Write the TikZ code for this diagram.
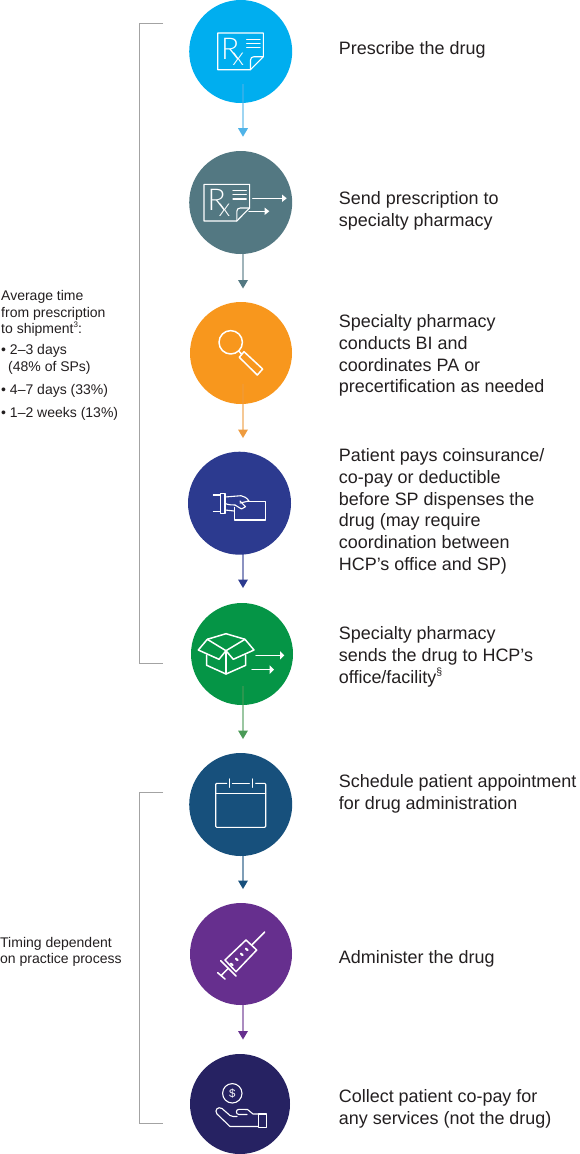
\documentclass[tikz,border=0pt]{standalone}
\usepackage{fontspec}
\setmainfont{Liberation Sans}
\newfontfamily\thinfont{Lato Light}
\definecolor{cA}{HTML}{00AEEF}
\definecolor{cAh}{HTML}{4FB3E8}
\definecolor{cB}{HTML}{537882}
\definecolor{cC}{HTML}{F8971D}
\definecolor{cCh}{HTML}{EE9B3F}
\definecolor{cD}{HTML}{2C3A8F}
\definecolor{cE}{HTML}{059546}
\definecolor{cEh}{HTML}{4A9A57}
\definecolor{cF}{HTML}{17507C}
\definecolor{cG}{HTML}{662F8E}
\definecolor{cH}{HTML}{262262}
\definecolor{brk}{HTML}{A3A3A3}
\definecolor{ink}{HTML}{231F20}
\tikzset{
  x=1pt,y=-1pt,
  stepcircle/.style={circle,minimum size=#1,inner sep=0pt,outer sep=0pt},
  label/.style={anchor=north west,inner sep=0pt,align=left,font=\fontsize{17.95}{21.65}\selectfont,text=ink},
  side/.style={anchor=north west,inner sep=0pt,align=left,font=\fontsize{14}{16.5}\selectfont,text=ink},
  bracket/.style={draw=brk,line width=1pt},
  ic/.style={draw=white,line width=1.1pt,line join=round,line cap=round},
  icb/.style={draw=white,line width=1.5pt,line join=round,line cap=round},
  rx/.style={text=white,inner sep=0pt,anchor=base west},
}
\newcommand{\flowarrow}[4]{% start, tip, name, colour
  \coordinate (#3s) at (243,#1);
  \coordinate (#3t) at (243,#2);
  \coordinate (#3m) at (243,#2-8.5);
  \draw[#4,line width=1.7pt,opacity=.55] (#3s) -- (#3m);
  \fill[#4] (#3m) ++(-5,0) -- ++(10,0) -- (#3t) -- cycle;
}
\newcommand{\rxdoc}{%
  \draw[ic] (263.3,56.7) -- (263.3,33) -- (217.7,33) -- (217.7,69.7) -- (250.5,69.7) -- cycle;
  \draw[ic] (250.5,69.7) -- (250.5,60) .. controls (250.5,58) and (252,56.7) .. (254,56.7) -- (263.3,56.7);
  \draw[ic] (246.7,39.3) -- (260,39.3) (246.7,43.3) -- (260,43.3) (246.7,47.7) -- (260,47.7);
}
\newcommand{\rxtext}{\thinfont\fontsize{30}{30}\selectfont R\kern-7pt\raisebox{-6pt}{\fontsize{25}{25}\selectfont x}}
\newcommand{\supsm}[2]{\raisebox{.75\dimexpr#1\relax}{\fontsize{#1}{#1}\selectfont #2}}
\begin{document}
\begin{tikzpicture}
\useasboundingbox (0,0) rectangle (580,1154);
\fill[white] (0,0) rectangle (580,1154);
% circles
\node[stepcircle=103,fill=cA] (c1) at (240.7,51.5) {};
\node[stepcircle=103,fill=cB] (c2) at (240.7,202.5) {};
\node[stepcircle=102,fill=cC] (c3) at (241,353) {};
\node[stepcircle=103,fill=cD] (c4) at (239.5,503.2) {};
\node[stepcircle=102,fill=cE] (c5) at (242,654) {};
\node[stepcircle=103,fill=cF] (c6) at (240.7,804.5) {};
\node[stepcircle=102,fill=cG] (c7) at (241,954) {};
\node[stepcircle=100,fill=cH] (c8) at (240,1104) {};
% arrows
\flowarrow{84}{136.7}{a}{cAh}
\flowarrow{232}{288.5}{b}{cB}
\flowarrow{384}{438}{c}{cCh}
\flowarrow{535}{588}{d}{cD}
\flowarrow{686}{739}{e}{cEh}
\flowarrow{836}{889}{f}{cF}
\flowarrow{985}{1039.5}{g}{cG}
% brackets
\draw[bracket] (163,23.5) -- (139.5,23.5) -- (139.5,663.5) -- (163,663.5);
\draw[bracket] (163,792.5) -- (139.5,792.5) -- (139.5,1123.5) -- (163,1123.5);
% icon 1
\rxdoc
\node[rx] (r1) at (221,59) {\rxtext};
% icon 2
\begin{scope}[shift={(-13.7,151.3)}]
\rxdoc
\node[rx] (r2) at (221,59) {\rxtext};
\end{scope}
\draw[ic] (252.7,198.3) -- (283,198.3) (249,211.3) -- (266,211.3);
\fill[white] (286.7,198.3) -- (282,194.5) -- (282,202) -- cycle;
\fill[white] (269.3,211.3) -- (264.6,207.5) -- (264.6,215) -- cycle;
% icon 3
\draw[icb] (230.7,342.3) circle[radius=11.7];
\draw[icb] (238.7,351) -- (241.5,354);
\draw[icb] (244,351.7) -- (262.7,369) -- (257.3,375) -- (239.3,357.3) -- cycle;
% icon 4
\draw[ic] (220.3,493.3) rectangle (225,513.3);
\draw[ic] (213.3,495) -- (220.3,495) (213.3,511.7) -- (220.3,511.7);
\draw[ic] (234.3,507.5) -- (234.3,520) -- (265.7,520) -- (265.7,501.7) -- (248,501.7);
\draw[ic] (225,497) -- (241,495.7) .. controls (244,496) and (247,498) .. (249,501) -- (240,503);
\draw[ic] (225,510) -- (234.3,511);
\draw[ic] (235,505) -- (241.5,509) -- (245.5,506.7) -- (240,501);
\draw[ic] (225,503.5) .. controls (229,505) and (232,505) .. (235,505);
% icon 5
\draw[icb] (207.3,639.3) -- (226,633.7) -- (245,639.3);
\draw[icb] (207.3,639.3) -- (198.3,650) -- (219,659.3) -- (226,650.7) -- (233.3,659.3) -- (254,650) -- (245,639.3) -- (226,650.7) -- cycle;
\draw[icb] (206.7,655) -- (206.7,665.3) -- (226,674) -- (245.7,665.3) -- (245.7,655);
\draw[icb] (226,650.7) -- (226,674);
\draw[icb] (256,655.3) -- (281,655.3) (252,669.7) -- (271,669.7);
\fill[white] (284.3,655.3) -- (280,651) -- (280,659.6) -- cycle;
\fill[white] (274,669.7) -- (269.7,665.4) -- (269.7,674) -- cycle;
% icon 6
\draw[ic,rounded corners=1pt] (226.7,783.3) -- (215.7,783.3) -- (215.7,827.3) -- (265.7,827.3) -- (265.7,783.3) -- (255.7,783.3);
\draw[ic] (232.3,783.3) -- (249.3,783.3) (215.7,793.7) -- (265.7,793.7) (229.3,779) -- (229.3,787.3) (252.7,779) -- (252.7,787.3);
% icon 7
\draw[icb] (264.7,932) -- (252,944.7);
\draw[icb] (246,940) -- (256.7,950) -- (236,971.7) -- (225,960) -- cycle;
\draw[icb] (220.7,960.7) -- (236,976);
\draw[icb] (228.3,968.3) -- (221,975.7) (217.7,972.7) -- (225,979);
\draw[icb,line width=2.2pt] (231,963.6) -- (232.6,965.2) (236,958.6) -- (237.6,960.2) (241,953.6) -- (242.6,955.2) (246,948.6) -- (247.6,950.2);
% icon 8
\draw[ic] (232.3,1093.3) circle[radius=9.7];
\node[text=white,inner sep=0pt,font=\fontsize{11.5}{11.5}\selectfont] (dollar) at (232.3,1093.3) {\$};
\draw[ic] (258.3,1114) rectangle (266.7,1127.3);
\draw[ic] (258.3,1114) -- (253,1114) -- (247.5,1109.5) -- (239,1109.3) .. controls (235.5,1109.3) and (235.5,1114.5) .. (239,1114.5) -- (247,1114.5);
\draw[ic] (258.3,1126.5) -- (230,1126.5) -- (217,1114) .. controls (214,1110) and (218,1106) .. (222,1108.5) -- (230,1115.5) .. controls (232,1116.5) and (234,1116.7) .. (237,1116.5);
% right labels
\node[label] (t1) at (338.7,41.7) {Prescribe the drug};
\node[label] (t2) at (338.7,191.7) {Send prescription to\\specialty pharmacy};
\node[label] (t3) at (338.7,314.7) {Specialty pharmacy\\conducts BI and\\coordinates PA or\\precertification as needed};
\node[label] (t4) at (338.7,448.7) {Patient pays coinsurance/\\co-pay or deductible\\before SP dispenses the\\drug (may require\\coordination between\\HCP’s office and SP)};
\node[label] (t5) at (338.7,626.7) {Specialty pharmacy\\sends the drug to HCP’s\\office/facility\supsm{10.5pt}{§}};
\node[label] (t6) at (338.7,774.7) {Schedule patient appointment\\for drug administration};
\node[label] (t7) at (338.7,950.7) {Administer the drug};
\node[label] (t8) at (338.7,1089.7) {Collect patient co-pay for\\any services (not the drug)};
% left labels
\node[side] (s1) at (1,290.5) {Average time\\from prescription\\to shipment\supsm{8pt}{3}:};
\node[side] (s2) at (1,344.5) {• 2–3 days\\\hspace*{7pt}(48\% of SPs)};
\node[side] (s3) at (1,384) {• 4–7 days (33\%)};
\node[side] (s4) at (1,407) {• 1–2 weeks (13\%)};
\node[side] (s5) at (0,937) {Timing dependent\\on practice process};
\end{tikzpicture}
\end{document}
